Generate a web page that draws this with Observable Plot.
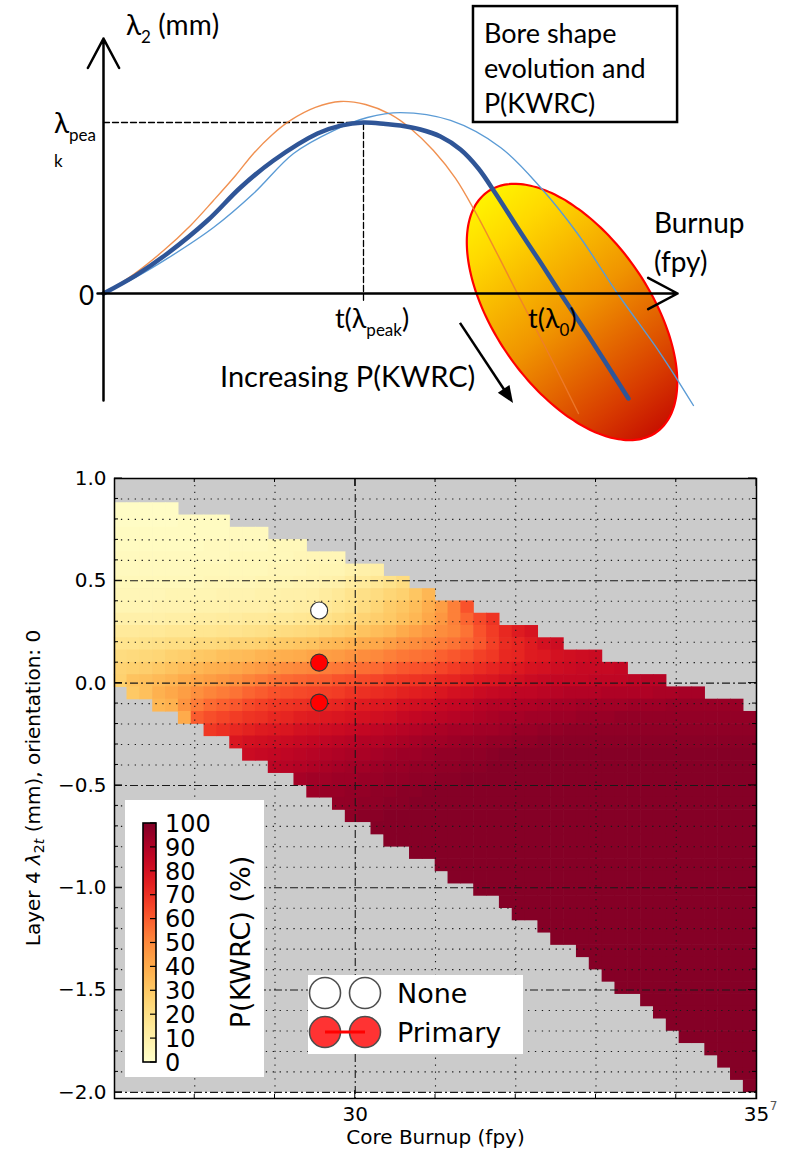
<!DOCTYPE html>
<html><head><meta charset="utf-8">
<script src="https://cdn.jsdelivr.net/npm/d3@7"></script>
<script src="https://cdn.jsdelivr.net/npm/@observablehq/plot@0.6"></script>
<style>
html,body{margin:0;padding:0;background:#fff;}
#top svg,#bottom svg{display:block;}
</style></head><body>
<div id="top"></div><div id="bottom"></div>
<script>
// ================= Schematic (diagram units: t(λpeak)=10, λpeak=10) =================
const curveOrange = [[0,0],[1.15,1.11],[2.31,2.51],[3.35,3.98],[4.23,5.44],[5.08,6.90],[5.77,8.19],[6.50,9.30],[7.19,10.12],[8.15,10.88],[9.12,11.23],[10.08,11.05],[11.04,10.47],[11.81,9.65],[12.69,8.36],[13.54,6.73],[14.31,4.74],[15.08,2.51],[15.92,0],[17.08,-3.39],[18.27,-7.02]];
const curveBlue = [[0,0],[1.23,1.05],[2.46,2.34],[4.00,4.27],[5.27,6.20],[6.54,7.78],[8.23,9.36],[9.12,9.82],[10,10],[10.85,9.91],[11.42,9.82],[12.19,9.59],[12.96,9.18],[13.73,8.42],[14.42,7.31],[15.08,5.85],[15.92,3.86],[16.81,1.81],[17.58,0],[18.62,-2.40],[20.19,-6.14]];
const curveLight = [[0,0],[1.23,0.94],[2.46,2.05],[4.23,3.86],[5.77,5.85],[7.31,8.19],[8.85,9.53],[10.15,10.29],[11.42,10.58],[13.35,10.12],[15.27,8.54],[16.81,6.20],[18.23,3.51],[19.77,0],[21.42,-3.51],[22.69,-6.55]];
const axisArrows = [{x1:0,y1:-6.26,x2:0,y2:14.91},{x1:-0.23,y1:0,x2:22.08,y2:0}];
const peakGuide = [[0,10],[10,10],[10,-0.4]];
const kwrcEllipse = {t:18.04, l:-1.11, a:5.65, b:2.96, angle:55};
const trendArrow = {x1:13.73, y1:-1.75, x2:15.77, y2:-6.43};
const noteBox = [{x1:14.23, x2:22.08, y1:10.0, y2:16.78}];
const diagramLabels = [
  {x:0.885, y:15.09, size:28, parts:[["λ"],["2","sub"],[" (mm)"]]},
  {x:-1.885, y:9.36, size:28, parts:[["λ"],["pea","sub"]]},
  {x:-1.885, y:7.37, size:17, parts:[["k"]]},
  {x:-0.346, y:-0.70, size:26, anchor:"end", parts:[["0"]]},
  {x:8.92, y:-2.05, size:27, parts:[["t(λ"],["peak","sub"],[")"]]},
  {x:16.35, y:-2.05, size:27, parts:[["t(λ"],["0","sub"],[")"]]},
  {x:4.5, y:-5.50, size:29, parts:[["Increasing P(KWRC)"]]},
  {x:14.65, y:14.62, size:27, parts:[["Bore shape"]]},
  {x:14.65, y:12.57, size:27, parts:[["evolution and"]]},
  {x:14.65, y:10.53, size:27, parts:[["P(KWRC)"]]},
  {x:21.19, y:3.51, size:28, parts:[["Burnup"]]},
  {x:21.19, y:1.23, size:28, parts:[["(fpy)"]]}
];

function ellipseMark(index, {x, y}) {
  const g = d3.create("svg:g");
  const cx = x(kwrcEllipse.t), cy = y(kwrcEllipse.l);
  const rx = x(kwrcEllipse.a) - x(0), ry = x(kwrcEllipse.b) - x(0);
  const A = kwrcEllipse.angle * Math.PI / 180;
  const hw = Math.sqrt(rx*rx*Math.cos(A)**2 + ry*ry*Math.sin(A)**2);
  const hh = Math.sqrt(rx*rx*Math.sin(A)**2 + ry*ry*Math.cos(A)**2);
  const grad = g.append("defs").append("linearGradient").attr("id","ellGrad")
    .attr("gradientUnits","userSpaceOnUse")
    .attr("x1",cx-hw).attr("y1",cy-hh).attr("x2",cx+hw).attr("y2",cy+hh);
  [[0,"#ffff00"],[0.2,"#ffd800"],[0.5,"#f09400"],[0.8,"#d83c00"],[1,"#c00000"]]
    .forEach(([o,c]) => grad.append("stop").attr("offset",o).attr("stop-color",c));
  const pts = d3.range(0, 360, 3).map(deg => {
    const th = deg * Math.PI / 180;
    return [cx + rx*Math.cos(th)*Math.cos(A) - ry*Math.sin(th)*Math.sin(A),
            cy + rx*Math.cos(th)*Math.sin(A) + ry*Math.sin(th)*Math.cos(A)];
  });
  g.append("path").attr("d", d3.line().curve(d3.curveCardinalClosed)(pts))
    .attr("fill","url(#ellGrad)").attr("stroke","#ff0000").attr("stroke-width",2.2);
  return g.node();
}

function trendArrowMark(index, {x, y}) {
  const g = d3.create("svg:g");
  const ax = x(trendArrow.x1), ay = y(trendArrow.y1), bx = x(trendArrow.x2), by = y(trendArrow.y2);
  const L = Math.hypot(bx-ax, by-ay), ux = (bx-ax)/L, uy = (by-ay)/L;
  const hl = 17, hw = 7;
  const sx = bx - ux*hl, sy = by - uy*hl;
  g.append("line").attr("x1",ax).attr("y1",ay).attr("x2",sx+ux*2).attr("y2",sy+uy*2)
    .attr("stroke","black").attr("stroke-width",2.5);
  g.append("path").attr("d",`M${bx},${by}L${sx-uy*hw},${sy+ux*hw}L${sx+uy*hw},${sy-ux*hw}Z`).attr("fill","black");
  return g.node();
}

function labelsMark(index, {x, y}) {
  const g = d3.create("svg:g").attr("font-family","Lato, 'Open Sans', 'Noto Sans', sans-serif").attr("fill","black");
  for (const lab of diagramLabels) {
    const t = g.append("text").attr("x", x(lab.x)).attr("y", y(lab.y))
      .attr("font-size", lab.size).attr("text-anchor", lab.anchor || "start");
    let shifted = 0;
    for (const [s, kind] of lab.parts) {
      const ts = t.append("tspan").text(s);
      if (kind === "sub") { const d = Math.round(lab.size*0.3); ts.attr("font-size", Math.round(lab.size*0.62)).attr("dy", d); shifted = d; }
      else if (shifted) { ts.attr("dy", -shifted); shifted = 0; }
    }
  }
  return g.node();
}

const topPlot = Plot.plot({
  width: 793, height: 445, margin: 0,
  x: {domain: [-3.9615, 26.5385], axis: null},
  y: {domain: [-8.889, 17.135], axis: null},
  style: {background: "white"},
  marks: [
    ellipseMark,
    Plot.rect(noteBox, {x1:"x1", x2:"x2", y1:"y1", y2:"y2", fill:"white", stroke:"black", strokeWidth:2.5}),
    Plot.line(peakGuide, {stroke:"black", strokeWidth:1.3, strokeDasharray:"6,3"}),
    Plot.line(curveOrange, {stroke:"#ed7d31", strokeWidth:1.4, curve:"catmull-rom", strokeOpacity:0.85}),
    Plot.line(curveLight, {stroke:"#5b9bd5", strokeWidth:1.4, curve:"catmull-rom"}),
    Plot.line(curveBlue, {stroke:"#2f5597", strokeWidth:4.5, curve:"catmull-rom"}),
    Plot.arrow(axisArrows, {x1:"x1", y1:"y1", x2:"x2", y2:"y2", stroke:"black", strokeWidth:2.5, headLength:20, headAngle:56}),
    trendArrowMark,
    labelsMark
  ]
});
document.getElementById("top").append(topPlot);

// ================= Heat map: P(KWRC) vs core burnup and λ2t =================
const burnupDomain = [27, 35];
const lambdaDomain = [-2.03, 1.0];
const gridX0 = 27, gridDX = 0.16, gridCols = 50;
const gridTop = 1.0, gridDY = 0.06, gridRows = 50;
const kwrcFirstRow = 2;
const kwrcRowStart = [0,0,0,0,0,0,0,0,0,0,0,0,0,0,0,1,3,5,7,9,10,12,14,15,17,18,20,21,23,25,26,28,30,31,33,34,36,37,38,39,41,42,43,44,46,47,48,49];
const kwrcRows = [
  "2 2 2 2 2",
  "2 2 2 2 2 3 3 3 3",
  "3 3 3 3 3 3 3 3 3 4 4 4",
  "3 3 3 3 3 3 3 4 4 4 4 4 5 5 5",
  "4 4 4 4 4 4 4 4 4 5 5 5 5 5 6 6 6 6",
  "4 4 4 4 4 4 5 5 5 5 5 5 6 6 6 7 7 7 9 10 11",
  "5 5 5 5 5 5 5 6 6 6 6 7 7 7 8 8 9 10 13 14 16 19 22",
  "6 6 6 6 7 7 7 7 8 8 8 9 9 10 10 11 13 15 18 20 22 25 27 31 36",
  "7 7 7 8 8 8 9 9 9 10 10 10 11 11 12 12 15 17 19 22 25 29 31 34 39 44 52 62",
  "10 10 10 10 11 11 12 12 13 13 14 14 15 15 16 17 19 21 23 26 28 30 33 36 41 46 52 58 64 69",
  "14 14 15 15 16 16 17 17 18 18 19 20 21 22 23 24 26 28 30 32 34 36 40 43 46 49 51 55 62 67 72 76 79",
  "18 18 19 20 21 21 23 23 24 26 26 27 29 30 31 32 35 36 38 40 41 44 47 49 51 53 55 58 61 66 71 73 76 80 82",
  "22 23 24 25 27 28 30 31 33 34 35 37 38 39 40 42 44 45 47 49 50 52 54 55 56 59 61 63 66 68 72 73 76 77 80 81 82 83",
  "26 27 28 30 32 34 36 38 39 41 43 45 47 49 50 51 53 54 55 56 57 59 61 62 63 65 67 69 71 73 75 77 79 80 82 83 84 84 84 85",
  "27 32 33 35 37 40 42 44 46 48 51 53 55 57 58 59 60 62 63 64 65 67 68 69 70 72 73 75 77 78 80 81 83 84 85 85 85 86 86 86 87 88 88",
  "30 33 38 41 44 48 51 53 55 58 60 62 63 64 65 66 67 69 70 71 72 74 75 76 78 80 81 83 84 85 86 86 87 88 89 89 89 90 90 90 90 91 91 92 92",
  "36 38 47 53 57 59 61 64 66 68 69 70 71 72 73 75 76 77 78 80 81 82 84 85 86 88 89 89 90 90 91 92 92 93 93 93 93 94 94 94 95*6",
  "40 60 63 65 67 69 70 72 73 75 76 77 78 79 80 81 82 84 85 86 87 88 89 90 91 92 92 93 93 94 94 95 95 95 96*11",
  "68 70 72 74 76 77 78 80 81 82 83 84 85 86 87 88 89 90 91 92 92 93 93 94 95 95 96 96 97*15",
  "78 80 81 82 83 84 85 86 87 88 89 89 90 91 92 93 93 94 95 95 96 96 97 97 98*17",
  "83 84 85 86 87 88 89 90 91 91 92 93 94 94 95 96 96 97 97 98 99*20",
  "87 88 89 90 91 92 93 93 94 95 95 96 96 97 97 98 98 99*21",
  "92 93 93 94 94 95 95 96 96 97 97 98 98 99*23",
  "94 95 95 96 96 97 97 98 98 99*26",
  "96 96 97 97 98 98 99*27",
  "97 98 98 99*29",
  "99*30","99*29","99*27","99*25","99*24","99*22","99*20","99*19","99*17","99*16",
  "99*14","99*13","99*12","99*11","99*9","99*8","99*7","99*6","99*4","99*3","99*2","99*1"
];
const pointBurnup = [29.55, 29.55, 29.55];
const pointLambda = [0.355, 0.10, -0.095];
const pointMode = ["None", "Primary", "Primary"];
const legendModes = ["None", "Primary"];
const lambdaMajor = [1.0, 0.5, 0.0, -0.5, -1.0, -1.5, -2.0];
const lambdaMinor = [0.9,0.8,0.7,0.6,0.4,0.3,0.2,0.1,-0.1,-0.2,-0.3,-0.4,-0.6,-0.7,-0.8,-0.9,-1.1,-1.2,-1.3,-1.4,-1.6,-1.7,-1.8,-1.9];
const burnupMajor = [30, 35];
const burnupMinor = [28, 29, 31, 32, 33, 34];
const cbTicks = [0,10,20,30,40,50,60,70,80,90,100];

const cells = [];
kwrcRows.forEach((s, k) => {
  const r = kwrcFirstRow + k;
  let c = kwrcRowStart[k];
  for (const tok of s.trim().split(/\s+/)) {
    const [v, n] = tok.split("*");
    for (let i = 0; i < (n ? +n : 1); i++, c++) {
      cells.push({x1: gridX0 + c*gridDX, x2: gridX0 + (c+1)*gridDX,
                  y1: gridTop - (r+1)*gridDY, y2: gridTop - r*gridDY, p: +v});
    }
  }
});
const gridExtent = [{x1: gridX0, x2: gridX0 + gridCols*gridDX, y1: gridTop - gridRows*gridDY, y2: gridTop}];
const points = pointMode.map((m, i) => ({x: pointBurnup[i], y: pointLambda[i], mode: m}));

function axisTicks(index, {x, y}) {
  const g = d3.create("svg:g").attr("stroke","black").attr("stroke-width",1);
  const xl = x(burnupDomain[0]), xr = x(burnupDomain[1]), yb = y(lambdaDomain[0]), yt = y(lambdaDomain[1]);
  const seg = (a,b,c,d) => g.append("line").attr("x1",a).attr("y1",b).attr("x2",c).attr("y2",d);
  for (const v of lambdaMajor) { const p = y(v); seg(xl,p,xl+8,p); seg(xr,p,xr-8,p); }
  for (const v of lambdaMinor) { const p = y(v); seg(xl,p,xl+4,p); seg(xr,p,xr-4,p); }
  for (const v of burnupMajor) { const p = x(v); seg(p,yb,p,yb-8); seg(p,yt,p,yt+8); }
  for (const v of burnupMinor) { const p = x(v); seg(p,yb,p,yb-4); seg(p,yt,p,yt+4); }
  return g.node();
}

function colorbarMark(index, scales, values, dims) {
  const fl = dims.marginLeft, ft = dims.marginTop;
  const col = scales.color || (v => d3.interpolateYlOrRd(v/100));
  const g = d3.create("svg:g").attr("font-family","'DejaVu Sans', sans-serif");
  g.append("rect").attr("x",fl+11).attr("y",ft+322).attr("width",139).attr("height",277).attr("fill","white");
  const bx = fl+29, by = ft+345, bw = 13, bh = 239;
  const grad = g.append("defs").append("linearGradient").attr("id","cbGrad")
    .attr("x1",0).attr("y1",1).attr("x2",0).attr("y2",0);
  d3.range(0, 101, 5).forEach(v => grad.append("stop").attr("offset", v/100).attr("stop-color", col(v)));
  g.append("rect").attr("x",bx).attr("y",by).attr("width",bw).attr("height",bh).attr("fill","url(#cbGrad)");
  for (const t of cbTicks) {
    const py = by + bh - t/100*bh;
    g.append("line").attr("x1",bx+bw-6).attr("x2",bx+bw).attr("y1",py).attr("y2",py).attr("stroke","black").attr("stroke-width",1.2);
    g.append("text").attr("x",fl+51).attr("y",py+8.7).attr("font-size",24).attr("text-anchor","start").attr("fill","black").text(t);
  }
  g.append("rect").attr("x",bx).attr("y",by).attr("width",bw).attr("height",bh).attr("fill","none").attr("stroke","black").attr("stroke-width",1.6);
  g.append("text").attr("transform",`translate(${fl+135.5},${ft+464}) rotate(-90)`)
    .attr("text-anchor","middle").attr("font-size",27).attr("fill","black").text("P(KWRC) (%)");
  return g.node();
}

function legendMark(index, scales, values, dims) {
  const fl = dims.marginLeft, ft = dims.marginTop;
  const g = d3.create("svg:g").attr("font-family","'DejaVu Sans', sans-serif");
  g.append("rect").attr("x",fl+194).attr("y",ft+497).attr("width",215).attr("height",79).attr("fill","white");
  legendModes.forEach((m, i) => {
    const cy = ft + 515 + i*39;
    const fill = m === "None" ? "white" : "#ff3333";
    for (const cx of [fl+211, fl+251]) {
      g.append("circle").attr("cx",cx).attr("cy",cy).attr("r",15.5).attr("fill",fill).attr("stroke","#4d4d4d").attr("stroke-width",1.6);
    }
    if (m !== "None") g.append("line").attr("x1",fl+211).attr("x2",fl+251).attr("y1",cy).attr("y2",cy).attr("stroke","#ff0000").attr("stroke-width",3);
    g.append("text").attr("x",fl+283).attr("y",cy+10).attr("font-size",27).attr("text-anchor","start").attr("fill","black").text(m);
  });
  return g.node();
}

function yLabelMark(index, scales, values, dims) {
  const cy = dims.marginTop + (dims.height - dims.marginTop - dims.marginBottom)/2;
  const g = d3.create("svg:g").attr("font-family","'DejaVu Sans', sans-serif");
  const t = g.append("text").attr("transform",`translate(40,${cy}) rotate(-90)`)
    .attr("text-anchor","middle").attr("font-size",20).attr("fill","black");
  t.append("tspan").text("Layer 4 ");
  t.append("tspan").attr("font-style","italic").text("λ");
  t.append("tspan").attr("font-size",14).attr("dy",4).text("2");
  t.append("tspan").attr("font-size",14).attr("font-style","italic").text("t");
  t.append("tspan").attr("dy",-4).text(" (mm), orientation: 0");
  return g.node();
}

const gridStyle = {stroke:"#1a1a1a", strokeWidth:1.1};
const heat = Plot.plot({
  width: 793, height: 711, marginTop: 33, marginBottom: 58, marginLeft: 114, marginRight: 37,
  x: {domain: burnupDomain, axis: null},
  y: {domain: lambdaDomain, axis: null},
  color: {type: "linear", scheme: "ylorrd", domain: [0, 100]},
  style: {fontFamily: "'DejaVu Sans', sans-serif", background: "white", color: "black"},
  marks: [
    Plot.rect(gridExtent, {x1:"x1", x2:"x2", y1:"y1", y2:"y2", fill:"#cbcbcb"}),
    Plot.rect(cells, {x1:"x1", x2:"x2", y1:"y1", y2:"y2", fill:"p", inset:-0.3}),
    Plot.ruleY(lambdaMinor, {...gridStyle, strokeDasharray:"1.3,5.6"}),
    Plot.ruleX(burnupMinor, {...gridStyle, strokeDasharray:"1.3,5.6"}),
    Plot.ruleY(lambdaMajor, {...gridStyle, strokeDasharray:"8,3,2,3"}),
    Plot.ruleX([burnupMajor[0]], {...gridStyle, strokeDasharray:"8,3,2,3"}),
    Plot.dot(points.filter(d => d.mode === "None"), {x:"x", y:"y", r:8.5, fill:"white", stroke:"#333", strokeWidth:1.2}),
    Plot.dot(points.filter(d => d.mode === "Primary"), {x:"x", y:"y", r:8.5, fill:"#ff0000", stroke:"#333", strokeWidth:1.2}),
    axisTicks,
    Plot.frame({stroke:"black", strokeWidth:1.5}),
    Plot.text(lambdaMajor, {x: () => burnupDomain[0], y: d => d, text: d => d3.format(".1f")(d), textAnchor:"end", dx:-8, fontSize:20}),
    Plot.text(burnupMajor, {x: d => d, y: () => lambdaDomain[0], text: d => String(d), dy:16, fontSize:20}),
    Plot.text(["7"], {x: () => burnupDomain[1], y: () => lambdaDomain[0], text: d => d, dx:17, dy:8, fontSize:12, fill:"#555"}),
    Plot.text(["Core Burnup (fpy)"], {frameAnchor:"bottom", text: d => d, dy:45, fontSize:20}),
    colorbarMark,
    legendMark,
    yLabelMark
  ]
});
document.getElementById("bottom").append(heat);
</script></body></html>
